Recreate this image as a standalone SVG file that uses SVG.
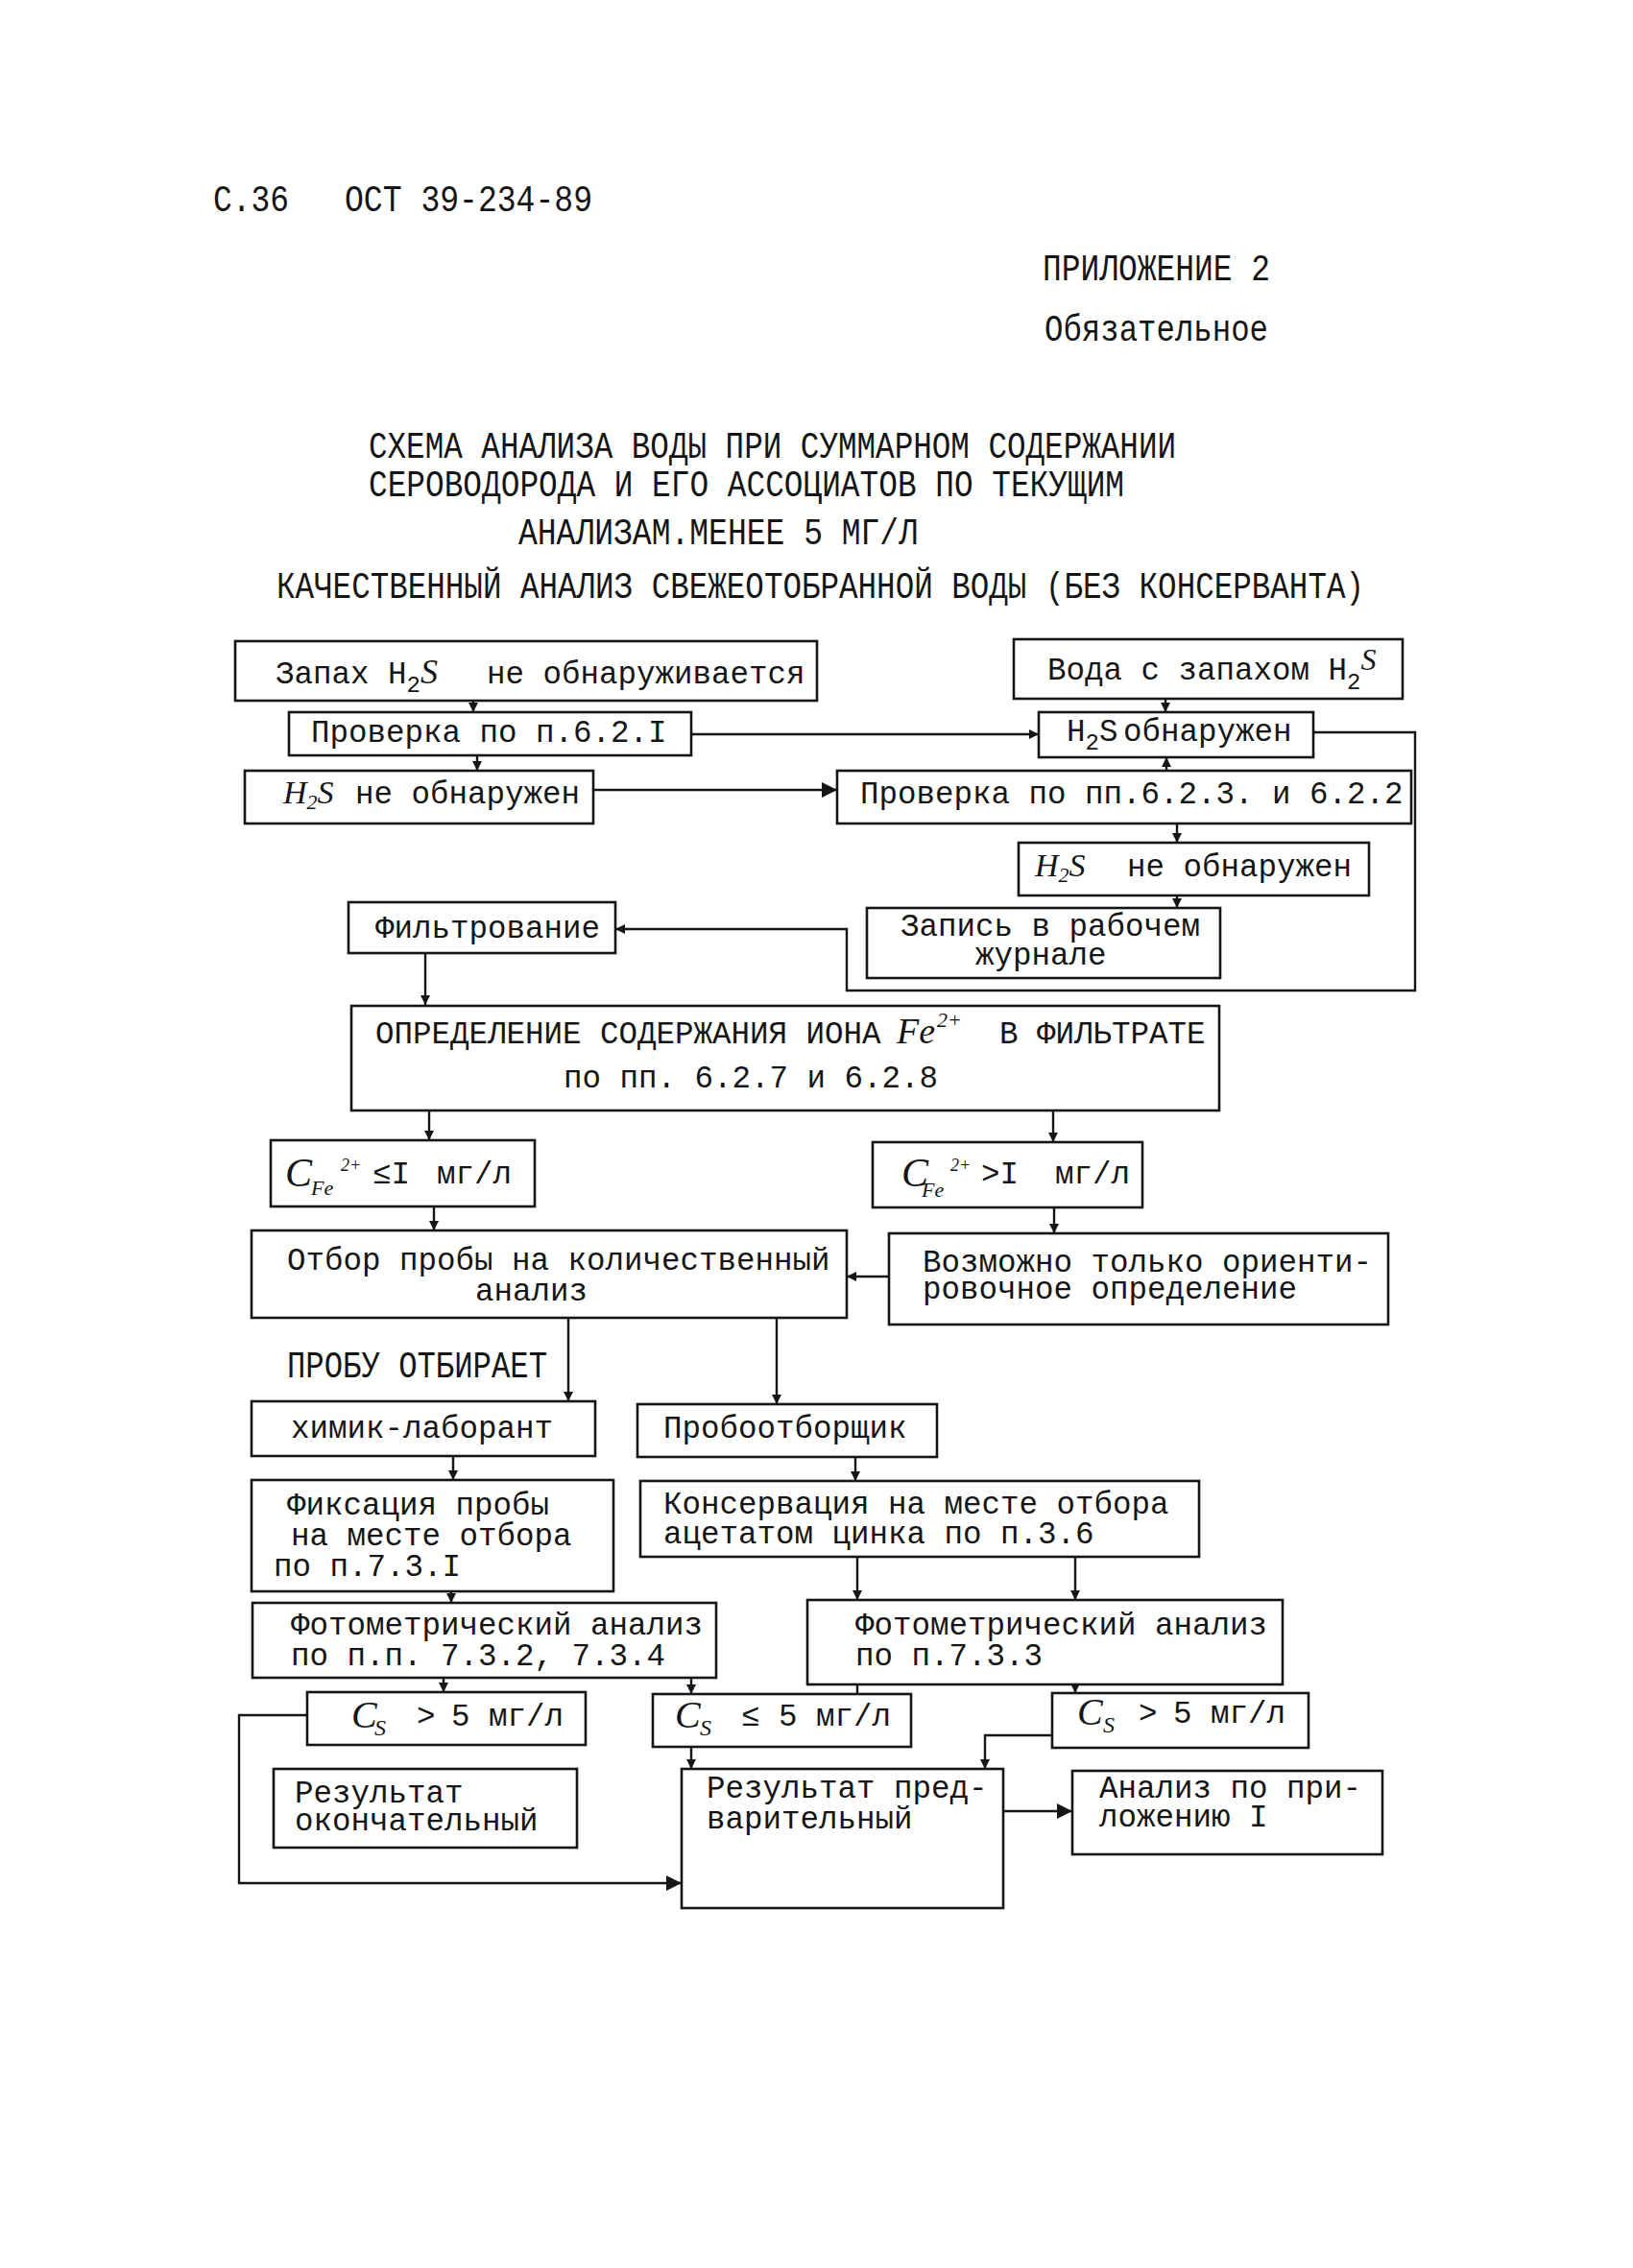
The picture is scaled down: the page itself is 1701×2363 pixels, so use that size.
<svg xmlns="http://www.w3.org/2000/svg" width="1701" height="2363" viewBox="0 0 1701 2363">
<defs>
<style>
.b{fill:none;stroke:#151515;stroke-width:2.6}
.c{fill:none;stroke:#151515;stroke-width:2.4}
.t{font-family:"Liberation Mono","DejaVu Sans Mono",monospace;font-size:32.5px;fill:#151515}
.h{font-family:"Liberation Mono","DejaVu Sans Mono",monospace;font-size:38px;fill:#151515}
.i{font-family:"Liberation Serif","DejaVu Serif",serif;font-style:italic;fill:#151515}
</style>
<marker id="a" viewBox="0 0 10 10" refX="10" refY="5" markerWidth="10" markerHeight="10" markerUnits="userSpaceOnUse" orient="auto"><path d="M0,0 L10,5 L0,10 z" fill="#151515"/></marker>
<marker id="A" viewBox="0 0 10 10" refX="10" refY="5" markerWidth="18" markerHeight="16" markerUnits="userSpaceOnUse" orient="auto"><path d="M0,0 L10,5 L0,10 z" fill="#151515"/></marker>
</defs>
<rect width="1701" height="2363" fill="#ffffff"/>

<g id="header">
<text class="h" x="222" y="220" textLength="79" lengthAdjust="spacingAndGlyphs">С.36</text>
<text class="h" x="359" y="220" textLength="258" lengthAdjust="spacingAndGlyphs">ОСТ 39-234-89</text>
<text class="h" x="1086" y="292" textLength="237" lengthAdjust="spacingAndGlyphs">ПРИЛОЖЕНИЕ 2</text>
<text class="h" x="1088" y="355" textLength="233" lengthAdjust="spacingAndGlyphs">Обязательное</text>
<text class="h" x="384" y="477" textLength="841" lengthAdjust="spacingAndGlyphs">СХЕМА АНАЛИЗА ВОДЫ ПРИ СУММАРНОМ СОДЕРЖАНИИ</text>
<text class="h" x="384" y="517" textLength="787" lengthAdjust="spacingAndGlyphs">СЕРОВОДОРОДА И ЕГО АССОЦИАТОВ ПО ТЕКУЩИМ</text>
<text class="h" x="540" y="567" textLength="416" lengthAdjust="spacingAndGlyphs">АНАЛИЗАМ.МЕНЕЕ 5 МГ/Л</text>
<text class="h" x="288" y="623" textLength="1133" lengthAdjust="spacingAndGlyphs">КАЧЕСТВЕННЫЙ АНАЛИЗ СВЕЖЕОТОБРАННОЙ ВОДЫ (БЕЗ КОНСЕРВАНТА)</text>
</g>

<g id="connectors">
<line class="c" x1="493" y1="730" x2="493" y2="742" marker-end="url(#a)"/>
<line class="c" x1="720" y1="765" x2="1082" y2="765" marker-end="url(#a)"/>
<line class="c" x1="1214" y1="728" x2="1214" y2="742" marker-end="url(#a)"/>
<line class="c" x1="497" y1="787" x2="497" y2="803" marker-end="url(#a)"/>
<line class="c" x1="618" y1="823" x2="872" y2="823" marker-end="url(#A)"/>
<line class="c" x1="1215" y1="803" x2="1215" y2="789" marker-end="url(#a)"/>
<line class="c" x1="1226" y1="858" x2="1226" y2="878" marker-end="url(#a)"/>
<line class="c" x1="1226" y1="933" x2="1226" y2="946" marker-end="url(#a)"/>
<polyline class="c" points="1368,763 1474,763 1474,1032 882,1032 882,968 641,968" marker-end="url(#a)"/>
<line class="c" x1="443" y1="993" x2="443" y2="1047" marker-end="url(#a)"/>
<line class="c" x1="447" y1="1157" x2="447" y2="1188" marker-end="url(#a)"/>
<line class="c" x1="1097" y1="1157" x2="1097" y2="1190" marker-end="url(#a)"/>
<line class="c" x1="452" y1="1257" x2="452" y2="1282" marker-end="url(#a)"/>
<line class="c" x1="1098" y1="1258" x2="1098" y2="1285" marker-end="url(#a)"/>
<line class="c" x1="926" y1="1330" x2="882" y2="1330" marker-end="url(#a)"/>
<line class="c" x1="592" y1="1373" x2="592" y2="1460" marker-end="url(#a)"/>
<line class="c" x1="809" y1="1373" x2="809" y2="1463" marker-end="url(#a)"/>
<line class="c" x1="472" y1="1517" x2="472" y2="1542" marker-end="url(#a)"/>
<line class="c" x1="891" y1="1518" x2="891" y2="1543" marker-end="url(#a)"/>
<line class="c" x1="470" y1="1658" x2="470" y2="1670" marker-end="url(#a)"/>
<line class="c" x1="893" y1="1622" x2="893" y2="1667" marker-end="url(#a)"/>
<line class="c" x1="1120" y1="1622" x2="1120" y2="1667" marker-end="url(#a)"/>
<line class="c" x1="462" y1="1748" x2="462" y2="1763" marker-end="url(#a)"/>
<line class="c" x1="720" y1="1748" x2="720" y2="1765" marker-end="url(#a)"/>
<line class="c" x1="893" y1="1755" x2="893" y2="1765"/>
<line class="c" x1="1120" y1="1755" x2="1120" y2="1764" marker-end="url(#a)"/>
<polyline class="c" points="320,1787 249,1787 249,1962 710,1962" marker-end="url(#A)"/>
<line class="c" x1="720" y1="1820" x2="720" y2="1843" marker-end="url(#a)"/>
<polyline class="c" points="1096,1808 1026,1808 1026,1843" marker-end="url(#a)"/>
<line class="c" x1="1045" y1="1887" x2="1117" y2="1887" marker-end="url(#A)"/>
</g>

<g id="nA"><rect class="b" x="245" y="668" width="606" height="62"/>
<text class="t" x="287" y="712">Запах H<tspan font-size="24" dy="9">2</tspan><tspan class="i" font-size="36" dy="-9">S</tspan><tspan x="507">не обнаруживается</tspan></text></g>

<g id="nB"><rect class="b" x="1056" y="666" width="405" height="62"/>
<text class="t" x="1091" y="708">Вода с запахом H<tspan font-size="24" dy="10">2</tspan><tspan class="i" font-size="32" dy="-20">S</tspan></text></g>

<g id="nC"><rect class="b" x="301" y="742" width="419" height="45"/>
<text class="t" x="324" y="773">Проверка по п.6.2.I</text></g>

<g id="nD"><rect class="b" x="1082" y="742" width="286" height="47"/>
<text class="t" x="1111" y="772">H<tspan font-size="24" dy="9">2</tspan><tspan dy="-9">S</tspan><tspan x="1170">обнаружен</tspan></text></g>

<g id="nE"><rect class="b" x="255" y="803" width="363" height="55"/>
<text class="t" x="295" y="837"><tspan class="i" font-size="34">H</tspan><tspan class="i" font-size="22" dy="6">2</tspan><tspan class="i" font-size="34" dy="-6">S</tspan><tspan x="370">не обнаружен</tspan></text></g>

<g id="nF"><rect class="b" x="872" y="803" width="598" height="55"/>
<text class="t" x="896" y="837">Проверка по пп.6.2.3. и 6.2.2</text></g>

<g id="nG"><rect class="b" x="1061" y="878" width="365" height="55"/>
<text class="t" x="1078" y="913"><tspan class="i" font-size="34">H</tspan><tspan class="i" font-size="22" dy="6">2</tspan><tspan class="i" font-size="34" dy="-6">S</tspan><tspan x="1174">не обнаружен</tspan></text></g>

<g id="nH"><rect class="b" x="363" y="940" width="278" height="53"/>
<text class="t" x="391" y="977">Фильтрование</text></g>

<g id="nI"><rect class="b" x="903" y="946" width="368" height="73"/>
<text class="t" x="938" y="975">Запись в рабочем<tspan x="1016" y="1005">журнале</tspan></text></g>

<g id="nJ"><rect class="b" x="366" y="1048" width="904" height="109"/>
<text class="t" x="391" y="1087">ОПРЕДЕЛЕНИЕ СОДЕРЖАНИЯ ИОНА<tspan class="i" x="934" font-size="38">Fe</tspan><tspan class="i" x="976" dy="-17" font-size="22">2+</tspan><tspan x="1041" dy="17">В ФИЛЬТРАТЕ</tspan><tspan x="587" y="1133">по пп. 6.2.7 и 6.2.8</tspan></text></g>

<g id="nK"><rect class="b" x="282" y="1188" width="275" height="69"/>
<text class="t" x="297" y="1233"><tspan class="i" font-size="42" dy="3">C</tspan><tspan class="i" font-size="22" x="324" dy="9">Fe</tspan><tspan class="i" font-size="18" x="355" dy="-25">2+</tspan><tspan x="388" dy="13">≤I</tspan><tspan x="455">мг/л</tspan></text></g>

<g id="nL"><rect class="b" x="909" y="1190" width="281" height="68"/>
<text class="t" x="939" y="1233"><tspan class="i" font-size="42" dy="3">C</tspan><tspan class="i" font-size="22" x="960" dy="11">Fe</tspan><tspan class="i" font-size="18" x="990" dy="-27">2+</tspan><tspan x="1022" dy="13">&gt;I</tspan><tspan x="1099">мг/л</tspan></text></g>

<g id="nM"><rect class="b" x="262" y="1282" width="620" height="91"/>
<text class="t" x="299" y="1323">Отбор пробы на количественный<tspan x="495" y="1355">анализ</tspan></text></g>

<g id="nN"><rect class="b" x="926" y="1285" width="520" height="95"/>
<text class="t" x="961" y="1325">Возможно только ориенти-<tspan x="961" y="1353">ровочное определение</tspan></text></g>

<g id="label-probu"><text class="h" x="299" y="1435" textLength="271" lengthAdjust="spacingAndGlyphs">ПРОБУ ОТБИРАЕТ</text></g>

<g id="nP"><rect class="b" x="262" y="1460" width="358" height="57"/>
<text class="t" x="303" y="1498">химик-лаборант</text></g>

<g id="nQ"><rect class="b" x="664" y="1463" width="312" height="55"/>
<text class="t" x="691" y="1498">Пробоотборщик</text></g>

<g id="nR"><rect class="b" x="262" y="1542" width="377" height="116"/>
<text class="t" x="299" y="1578">Фиксация пробы<tspan x="303" y="1610">на месте отбора</tspan><tspan x="285" y="1642">по п.7.3.I</tspan></text></g>

<g id="nS"><rect class="b" x="667" y="1543" width="582" height="79"/>
<text class="t" x="691" y="1577">Консервация на месте отбора<tspan x="691" y="1608">ацетатом цинка по п.3.6</tspan></text></g>

<g id="nT"><rect class="b" x="263" y="1670" width="483" height="78"/>
<text class="t" x="303" y="1703">Фотометрический анализ<tspan x="303" y="1735">по п.п. 7.3.2, 7.3.4</tspan></text></g>

<g id="nU"><rect class="b" x="841" y="1667" width="495" height="88"/>
<text class="t" x="891" y="1703">Фотометрический анализ<tspan x="891" y="1735">по п.7.3.3</tspan></text></g>

<g id="nV"><rect class="b" x="320" y="1763" width="290" height="55"/>
<text class="t" x="366" y="1798"><tspan class="i" font-size="40" dy="2">C</tspan><tspan class="i" font-size="24" x="390" dy="8">S</tspan><tspan x="434" dy="-10">&gt;</tspan><tspan x="470">5 мг/л</tspan></text></g>

<g id="nW"><rect class="b" x="680" y="1765" width="269" height="55"/>
<text class="t" x="703" y="1798"><tspan class="i" font-size="40" dy="2">C</tspan><tspan class="i" font-size="24" x="729" dy="8">S</tspan><tspan x="772" dy="-10">≤</tspan><tspan x="811">5 мг/л</tspan></text></g>

<g id="nX"><rect class="b" x="1096" y="1764" width="267" height="57"/>
<text class="t" x="1122" y="1795"><tspan class="i" font-size="40" dy="2">C</tspan><tspan class="i" font-size="24" x="1149" dy="8">S</tspan><tspan x="1186" dy="-10">&gt;</tspan><tspan x="1222">5 мг/л</tspan></text></g>

<g id="nY"><rect class="b" x="285" y="1843" width="316" height="82"/>
<text class="t" x="307" y="1878">Результат<tspan x="307" y="1907">окончательный</tspan></text></g>

<g id="nZ"><rect class="b" x="710" y="1843" width="335" height="145"/>
<text class="t" x="736" y="1873">Результат пред-<tspan x="736" y="1905">варительный</tspan></text></g>

<g id="nAA"><rect class="b" x="1117" y="1845" width="323" height="87"/>
<text class="t" x="1145" y="1873">Анализ по при-<tspan x="1145" y="1903">ложению I</tspan></text></g>
</svg>
